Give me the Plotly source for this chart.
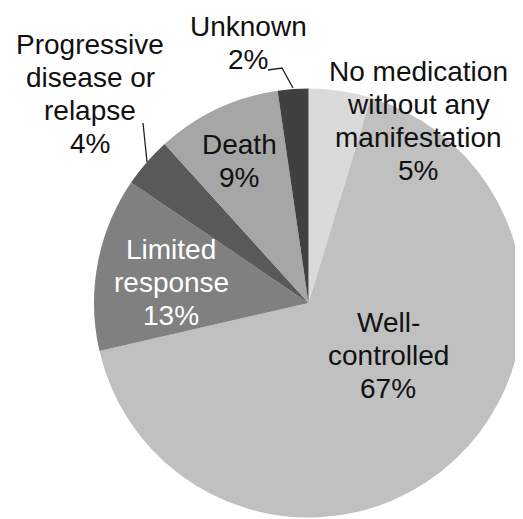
import plotly.graph_objects as go

# ---- data ----
categories = ["No medication without any manifestation", "Well-controlled",
              "Limited response", "Progressive disease or relapse", "Death", "Unknown"]
values = [4.7, 66.7, 13.1, 3.8, 9.4, 2.3]   # slice shares (%)
label_lines = [["No medication", "without any", "manifestation", "5%"],
               ["Well-", "controlled", "67%"],
               ["Limited", "response", "13%"],
               ["Progressive", "disease or", "relapse", "4%"],
               ["Death", "9%"],
               ["Unknown", "2%"]]
colors = ["#dadada", "#c0c0c0", "#808080", "#595959", "#a6a6a6", "#404040"]
text_colors = ["#111111", "#111111", "#ffffff", "#111111", "#111111", "#111111"]

# The page body has an 8px margin, so the figure is drawn 8px smaller and
# positions below are given in screen pixels and shifted by OFF.
OFF = 8
W, H = 523 - OFF, 519 - OFF
# label centre x and first-line baseline (screen pixels), line spacing
label_pos = [(418, 82), (388, 333), (171, 260), (90, 55), (239, 155), (248, 37)]
LINE_SP = 32.7
FS = 28

def px(x):
    return (x - OFF) / W

def py(y):
    return 1 - (y - OFF) / H

fig = go.Figure(go.Pie(
    labels=categories, values=values, sort=False, direction="clockwise", rotation=0,
    marker=dict(colors=colors, line=dict(width=0)),
    textinfo="none", hoverinfo="label+percent", showlegend=False,
    domain=dict(x=[px(94), 1.0], y=[max(0.0, py(518)), py(88)]),
))

anns = []
for lines, (cx, base), tc in zip(label_lines, label_pos, text_colors):
    for i, ln in enumerate(lines):
        yb = base + i * LINE_SP
        anns.append(dict(x=px(cx), y=py(yb - 0.36 * FS), xref="paper", yref="paper",
                         text=ln, showarrow=False, xanchor="center", yanchor="middle",
                         font=dict(family="Liberation Sans, Arial, sans-serif", size=FS,
                                   color=tc)))

def pth(points):
    return "M " + " L ".join(f"{px(x)},{py(y)}" for x, y in points)

shapes = [
    dict(type="path", xref="paper", yref="paper", path=pth([(143, 123), (147, 162)]),
         line=dict(color="#222222", width=1.3)),
    dict(type="path", xref="paper", yref="paper", path=pth([(268, 70), (282, 68), (293, 88)]),
         line=dict(color="#222222", width=1.3)),
]

fig.update_layout(width=W, height=H, margin=dict(l=0, r=0, t=0, b=0),
                  paper_bgcolor="white", plot_bgcolor="white",
                  annotations=anns, shapes=shapes)
fig.write_html("out.html")
